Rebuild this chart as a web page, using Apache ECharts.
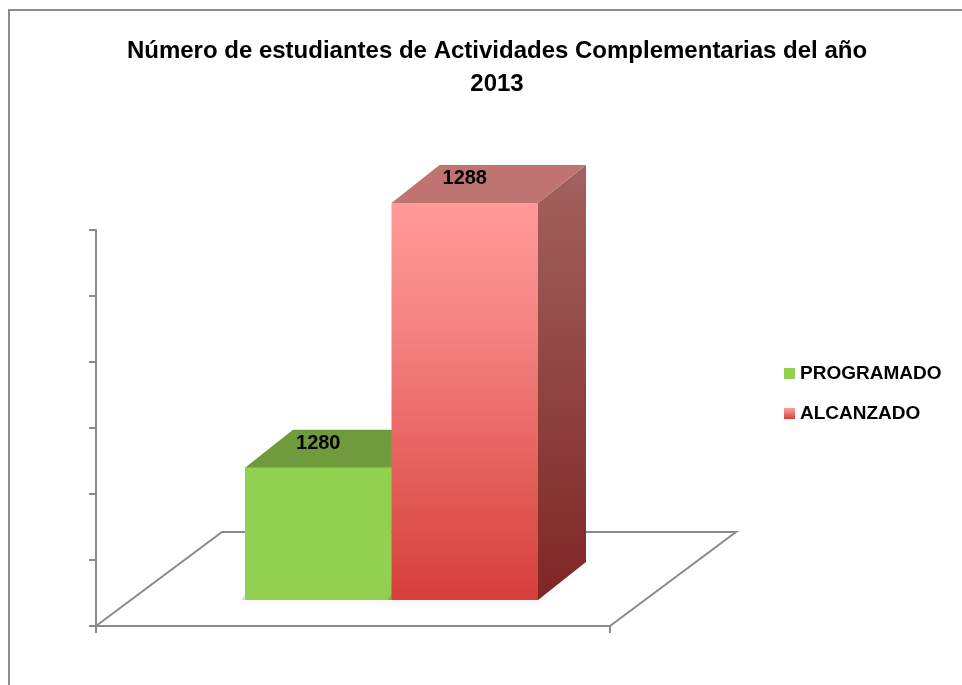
<!DOCTYPE html>
<html>
<head>
<meta charset="utf-8">
<script src="https://cdn.jsdelivr.net/npm/echarts@6/dist/echarts.min.js"></script>
<style>
  html, body { margin: 0; padding: 0; background: #fff; }
  #main { width: 962px; height: 685px; }
</style>
</head>
<body>
<div id="main"></div>
<script>
// data
const titleText = 'Número de estudiantes de Actividades Complementarias del año\n2013';
const seriesNames = ['PROGRAMADO', 'ALCANZADO'];
const programado = [1280];
const alcanzado = [1288];
const yMin = 1276, yMax = 1288, yStep = 2;

const FONT = '"Liberation Sans Narrow", "Arial Narrow", "Liberation Sans", sans-serif';
const DX = 48, DY = -38;       // depth of the 3d bars
const FDX = 126, FDY = -94;    // depth of the floor

var chartDom = document.getElementById('main');
var myChart = echarts.init(chartDom);

const greenFaces = {
  front: '#92D050',
  top: '#709B3D',
  side: '#5E8A30'
};
const redFaces = {
  front: new echarts.graphic.LinearGradient(0, 0, 0, 1, [
    { offset: 0, color: '#FF9A98' },
    { offset: 0.3, color: '#F58583' },
    { offset: 1, color: '#D63F3B' }
  ]),
  top: '#C07471',
  side: new echarts.graphic.LinearGradient(0, 0, 0, 1, [
    { offset: 0, color: '#A2625F' },
    { offset: 1, color: '#7E2625' }
  ])
};

function barRenderer(slot, faces) {
  return function (params, api) {
    const band = api.size([1, 0])[0];
    const w = band / 2;
    const c = api.coord([api.value(0), api.value(1)]);
    const base = api.coord([api.value(0), yMin]);
    const x0 = c[0] - band / 2 + slot * w;
    const ty = c[1], by = base[1];
    return {
      type: 'group',
      children: [
        {
          type: 'polygon',
          shape: { points: [[x0 - 4, by], [x0 + w, by], [x0 + w + DX * 0.5, by + DY * 0.5], [x0 + DX * 0.2, by + DY * 0.5]] },
          style: { fill: 'rgba(0,0,0,0.12)', shadowBlur: 8, shadowColor: 'rgba(0,0,0,0.35)', shadowOffsetY: 2 }
        },
        {
          type: 'polygon',
          shape: { points: [[x0 + w, ty], [x0 + w + DX, ty + DY], [x0 + w + DX, by + DY], [x0 + w, by]] },
          style: { fill: faces.side }
        },
        {
          type: 'rect',
          shape: { x: x0, y: ty, width: w, height: by - ty },
          style: { fill: faces.front }
        },
        {
          type: 'polygon',
          shape: { points: [[x0, ty], [x0 + DX, ty + DY], [x0 + w + DX, ty + DY], [x0 + w, ty]] },
          style: { fill: faces.top }
        },
        {
          type: 'text',
          x: x0 + w / 2,
          y: ty + DY * 0.64,
          style: {
            text: String(api.value(1)),
            fill: '#000',
            font: 'bold 20px ' + FONT,
            align: 'center',
            verticalAlign: 'middle'
          }
        }
      ]
    };
  };
}

var option = {
  animation: false,
  backgroundColor: '#fff',
  title: {
    text: titleText,
    left: 492,
    textAlign: 'center',
    top: 30,
    textStyle: {
      fontFamily: FONT,
      fontWeight: 'bold',
      fontSize: 24,
      lineHeight: 33,
      color: '#000'
    }
  },
  legend: {
    data: seriesNames,
    orient: 'vertical',
    left: 779,
    top: 359,
    itemWidth: 11,
    itemHeight: 11,
    itemGap: 21,
    icon: 'rect',
    textStyle: { fontFamily: FONT, fontWeight: 'bold', fontSize: 19, color: '#000' }
  },
  graphic: [
    {
      type: 'rect',
      shape: { x: 9, y: 10, width: 1000, height: 720 },
      style: { fill: 'none', stroke: '#8C8C8C', lineWidth: 2 },
      silent: true
    }
  ],
  grid: [
    { left: 96, top: 230, width: 514, height: 396 },
    { left: 245, top: 203, width: 293, height: 397 }
  ],
  xAxis: [
    {
      gridIndex: 0,
      type: 'category',
      data: [''],
      boundaryGap: true,
      axisLine: { lineStyle: { color: '#8A8A8A', width: 2 } },
      axisTick: { show: true, length: 7, lineStyle: { color: '#8A8A8A', width: 2 } },
      axisLabel: { show: false },
      splitLine: { show: false }
    },
    {
      gridIndex: 1,
      type: 'category',
      data: [''],
      show: false
    }
  ],
  yAxis: [
    {
      gridIndex: 0,
      type: 'value',
      min: yMin,
      max: yMax,
      interval: yStep,
      axisLine: { show: true, lineStyle: { color: '#8A8A8A', width: 2 } },
      axisTick: { show: true, length: 7, lineStyle: { color: '#8A8A8A', width: 2 } },
      axisLabel: { show: false },
      splitLine: { show: false }
    },
    {
      gridIndex: 1,
      type: 'value',
      min: yMin,
      max: yMax,
      show: false
    }
  ],
  series: [
    {
      name: 'floor',
      type: 'custom',
      xAxisIndex: 0,
      yAxisIndex: 0,
      silent: true,
      z: 1,
      data: [[0, yMin]],
      renderItem: function (params, api) {
        const cs = params.coordSys;
        const x = cs.x, y = cs.y + cs.height, w = cs.width;
        return {
          type: 'polyline',
          shape: { points: [[x, y], [x + FDX, y + FDY], [x + w + FDX, y + FDY], [x + w, y]] },
          style: { stroke: '#8A8A8A', lineWidth: 2, fill: 'none' }
        };
      }
    },
    {
      name: seriesNames[0],
      type: 'custom',
      xAxisIndex: 1,
      yAxisIndex: 1,
      z: 3,
      itemStyle: { color: greenFaces.front },
      data: programado.map((v, i) => [i, v]),
      renderItem: barRenderer(0, greenFaces)
    },
    {
      name: seriesNames[1],
      type: 'custom',
      xAxisIndex: 1,
      yAxisIndex: 1,
      z: 4,
      itemStyle: { color: redFaces.front },
      data: alcanzado.map((v, i) => [i, v]),
      renderItem: barRenderer(1, redFaces)
    }
  ]
};

option && myChart.setOption(option);
</script>
</body>
</html>
